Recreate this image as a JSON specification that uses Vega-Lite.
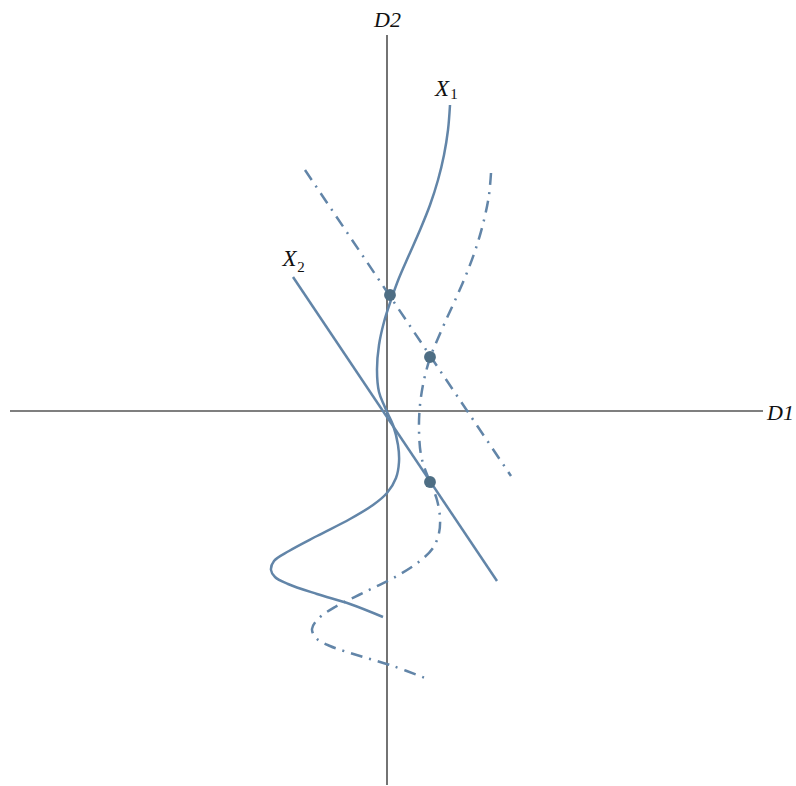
{
  "$schema": "https://vega.github.io/schema/vega-lite/v6.json",
  "width": 796,
  "height": 786,
  "padding": 0,
  "autosize": {"type": "fit", "contains": "padding"},
  "background": "white",
  "config": {"view": {"stroke": null}},
  "datasets": {
    "axes": [
      {"x1": -3.77, "x2": 3.76, "y1": 0, "y2": 0},
      {"x1": 0, "x2": 0, "y1": 3.76, "y2": -3.74}
    ],
    "x1curve": [
      {"i": 1, "x": 0.63, "y": 3.06}, {"i": 2, "x": 0.61, "y": 2.81}, {"i": 3, "x": 0.57, "y": 2.56},
      {"i": 4, "x": 0.51, "y": 2.31}, {"i": 5, "x": 0.43, "y": 2.06}, {"i": 6, "x": 0.33, "y": 1.81},
      {"i": 7, "x": 0.22, "y": 1.56}, {"i": 8, "x": 0.12, "y": 1.33}, {"i": 9, "x": 0.04, "y": 1.11},
      {"i": 10, "x": -0.03, "y": 0.89}, {"i": 11, "x": -0.08, "y": 0.66}, {"i": 12, "x": -0.1, "y": 0.41},
      {"i": 13, "x": -0.08, "y": 0.19}, {"i": 14, "x": -0.03, "y": 0.06}, {"i": 15, "x": 0.01, "y": -0.03},
      {"i": 16, "x": 0.06, "y": -0.14}, {"i": 17, "x": 0.11, "y": -0.34}, {"i": 18, "x": 0.12, "y": -0.51},
      {"i": 19, "x": 0.09, "y": -0.67}, {"i": 20, "x": 0.0, "y": -0.82}, {"i": 21, "x": -0.14, "y": -0.94},
      {"i": 22, "x": -0.37, "y": -1.08}, {"i": 23, "x": -0.7, "y": -1.25}, {"i": 24, "x": -0.98, "y": -1.4},
      {"i": 25, "x": -1.13, "y": -1.5}, {"i": 26, "x": -1.16, "y": -1.59}, {"i": 27, "x": -1.12, "y": -1.66},
      {"i": 28, "x": -0.99, "y": -1.73}, {"i": 29, "x": -0.7, "y": -1.83}, {"i": 30, "x": -0.37, "y": -1.93},
      {"i": 31, "x": -0.04, "y": -2.06}
    ],
    "shiftcurve": [
      {"i": 1, "x": 1.04, "y": 2.38}, {"i": 2, "x": 1.02, "y": 2.16}, {"i": 3, "x": 0.97, "y": 1.91},
      {"i": 4, "x": 0.9, "y": 1.66}, {"i": 5, "x": 0.81, "y": 1.41}, {"i": 6, "x": 0.7, "y": 1.15},
      {"i": 7, "x": 0.59, "y": 0.91}, {"i": 8, "x": 0.49, "y": 0.68}, {"i": 9, "x": 0.43, "y": 0.53},
      {"i": 10, "x": 0.37, "y": 0.31}, {"i": 11, "x": 0.33, "y": 0.06}, {"i": 12, "x": 0.32, "y": -0.19},
      {"i": 13, "x": 0.34, "y": -0.44}, {"i": 14, "x": 0.39, "y": -0.61}, {"i": 15, "x": 0.44, "y": -0.73},
      {"i": 16, "x": 0.5, "y": -0.89}, {"i": 17, "x": 0.53, "y": -1.07}, {"i": 18, "x": 0.52, "y": -1.22},
      {"i": 19, "x": 0.46, "y": -1.37}, {"i": 20, "x": 0.33, "y": -1.5}, {"i": 21, "x": 0.1, "y": -1.65},
      {"i": 22, "x": -0.22, "y": -1.81}, {"i": 23, "x": -0.52, "y": -1.96}, {"i": 24, "x": -0.69, "y": -2.08},
      {"i": 25, "x": -0.75, "y": -2.18}, {"i": 26, "x": -0.71, "y": -2.27}, {"i": 27, "x": -0.57, "y": -2.35},
      {"i": 28, "x": -0.27, "y": -2.45}, {"i": 29, "x": 0.06, "y": -2.55}, {"i": 30, "x": 0.38, "y": -2.67}
    ],
    "x2line": [
      {"i": 1, "x": -0.94, "y": 1.34}, {"i": 2, "x": 1.1, "y": -1.7}
    ],
    "shiftline": [
      {"i": 1, "x": -0.82, "y": 2.41}, {"i": 2, "x": 1.24, "y": -0.65}
    ],
    "points": [
      {"x": 0.03, "y": 1.16}, {"x": 0.43, "y": 0.54}, {"x": 0.43, "y": -0.71}
    ],
    "axislabelsC": [
      {"x": 0.005, "y": 3.915, "t": "D2"}
    ],
    "axislabelsL": [
      {"x": 3.8, "y": -0.02, "t": "D1"}
    ],
    "xlabels": [
      {"x": 0.55, "y": 3.22, "t": "X"},
      {"x": -0.975, "y": 1.525, "t": "X"}
    ],
    "subs": [
      {"x": 0.67, "y": 3.17, "t": "1"},
      {"x": -0.86, "y": 1.44, "t": "2"}
    ]
  },
  "layer": [
    {
      "data": {"name": "axes"},
      "mark": {"type": "rule", "color": "#000000", "strokeWidth": 1.1},
      "encoding": {
        "x": {"field": "x1", "type": "quantitative", "scale": {"domain": [-3.87, 4.09], "nice": false, "zero": false}, "axis": null},
        "x2": {"field": "x2"},
        "y": {"field": "y1", "type": "quantitative", "scale": {"domain": [-3.75, 4.11], "nice": false, "zero": false}, "axis": null},
        "y2": {"field": "y2"}
      }
    },
    {
      "data": {"name": "x1curve"},
      "mark": {"type": "line", "color": "#6285a8", "strokeWidth": 2.5, "interpolate": "catmull-rom"},
      "encoding": {
        "x": {"field": "x", "type": "quantitative"},
        "y": {"field": "y", "type": "quantitative"},
        "order": {"field": "i", "type": "quantitative"}
      }
    },
    {
      "data": {"name": "shiftcurve"},
      "mark": {"type": "line", "color": "#6285a8", "strokeWidth": 2.5, "interpolate": "catmull-rom", "strokeDash": [12, 7, 2, 7]},
      "encoding": {
        "x": {"field": "x", "type": "quantitative"},
        "y": {"field": "y", "type": "quantitative"},
        "order": {"field": "i", "type": "quantitative"}
      }
    },
    {
      "data": {"name": "x2line"},
      "mark": {"type": "line", "color": "#6285a8", "strokeWidth": 2.5},
      "encoding": {
        "x": {"field": "x", "type": "quantitative"},
        "y": {"field": "y", "type": "quantitative"},
        "order": {"field": "i", "type": "quantitative"}
      }
    },
    {
      "data": {"name": "shiftline"},
      "mark": {"type": "line", "color": "#6285a8", "strokeWidth": 2.5, "strokeDash": [12, 7, 2, 7]},
      "encoding": {
        "x": {"field": "x", "type": "quantitative"},
        "y": {"field": "y", "type": "quantitative"},
        "order": {"field": "i", "type": "quantitative"}
      }
    },
    {
      "data": {"name": "points"},
      "mark": {"type": "circle", "color": "#4e6e84", "opacity": 1, "size": 140},
      "encoding": {
        "x": {"field": "x", "type": "quantitative"},
        "y": {"field": "y", "type": "quantitative"}
      }
    },
    {
      "data": {"name": "axislabelsC"},
      "mark": {"type": "text", "font": "Liberation Serif", "fontStyle": "italic", "fontSize": 22, "color": "#111111", "baseline": "middle", "align": "center"},
      "encoding": {
        "x": {"field": "x", "type": "quantitative"},
        "y": {"field": "y", "type": "quantitative"},
        "text": {"field": "t"}
      }
    },
    {
      "data": {"name": "axislabelsL"},
      "mark": {"type": "text", "font": "Liberation Serif", "fontStyle": "italic", "fontSize": 22, "color": "#111111", "baseline": "middle", "align": "left"},
      "encoding": {
        "x": {"field": "x", "type": "quantitative"},
        "y": {"field": "y", "type": "quantitative"},
        "text": {"field": "t"}
      }
    },
    {
      "data": {"name": "xlabels"},
      "mark": {"type": "text", "font": "Liberation Serif", "fontStyle": "italic", "fontSize": 23, "color": "#111111", "baseline": "middle", "align": "center"},
      "encoding": {
        "x": {"field": "x", "type": "quantitative"},
        "y": {"field": "y", "type": "quantitative"},
        "text": {"field": "t"}
      }
    },
    {
      "data": {"name": "subs"},
      "mark": {"type": "text", "font": "Liberation Serif", "fontSize": 15, "color": "#111111", "baseline": "middle", "align": "center"},
      "encoding": {
        "x": {"field": "x", "type": "quantitative"},
        "y": {"field": "y", "type": "quantitative"},
        "text": {"field": "t"}
      }
    }
  ]
}
